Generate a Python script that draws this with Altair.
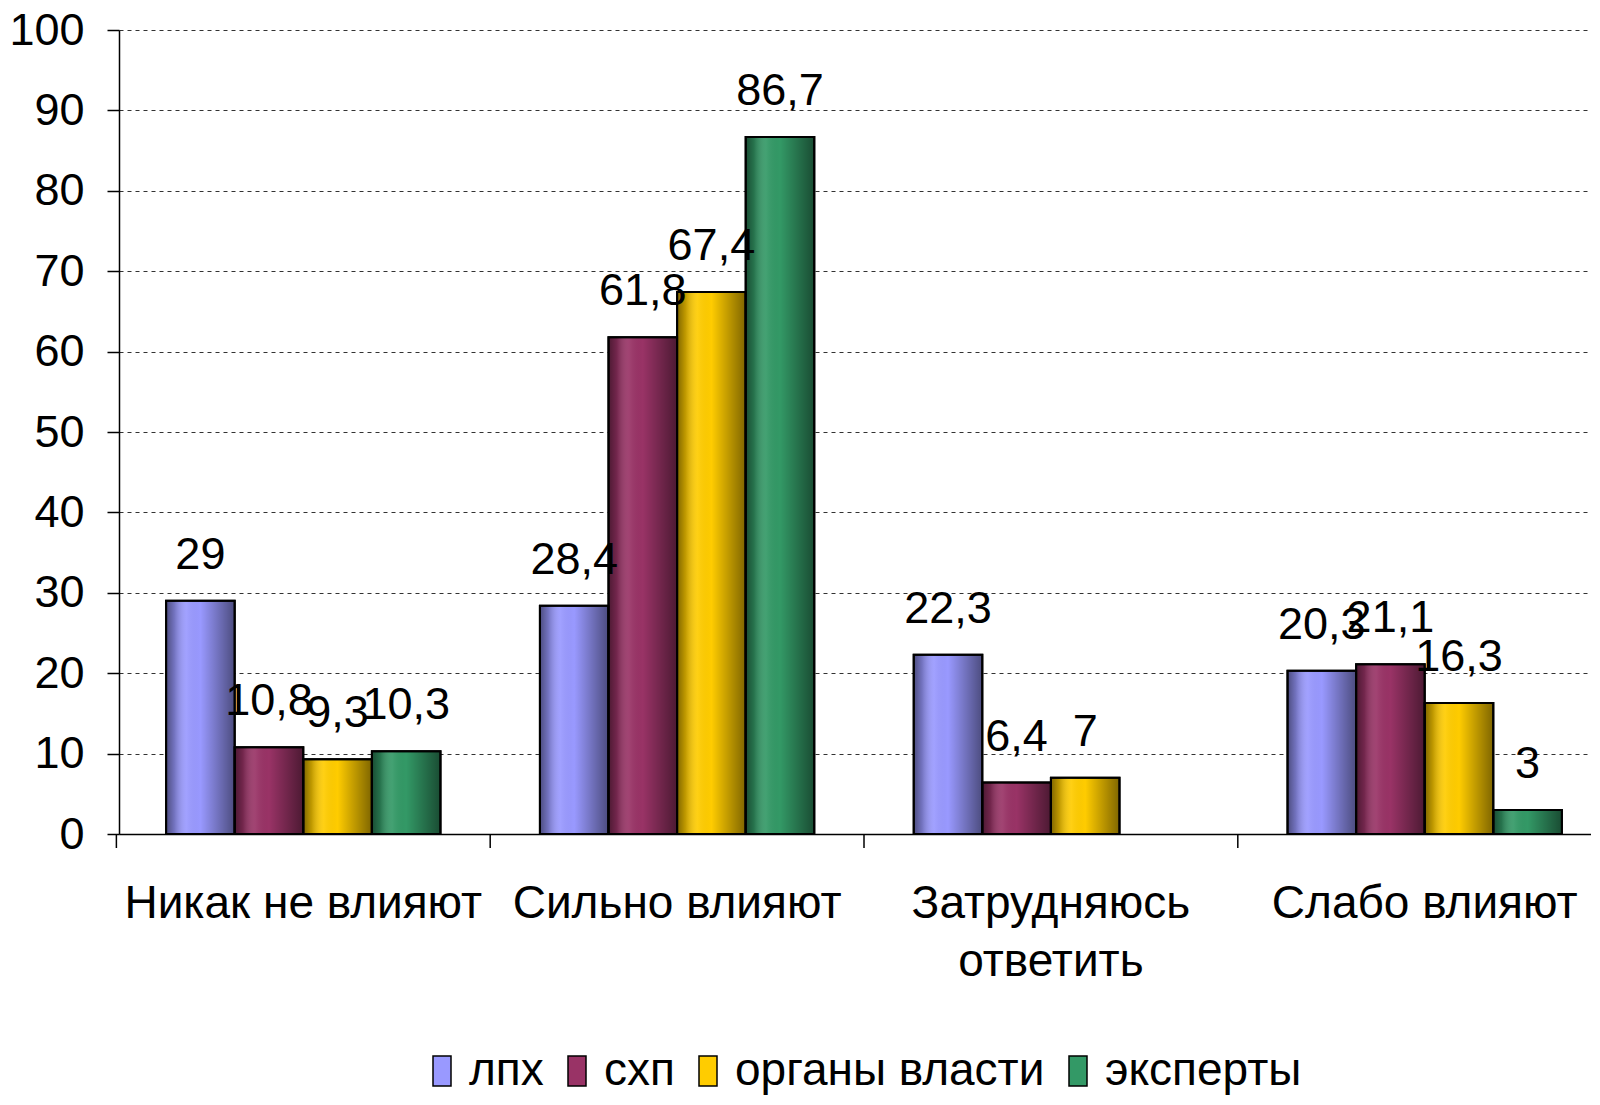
import altair as alt
import pandas as pd

categories = ["Никак не влияют", "Сильно влияют", "Затрудняюсь ответить", "Слабо влияют"]
series = ["лпх", "схп", "органы власти", "эксперты"]
colors = ["#9999FF", "#993366", "#FFCC00", "#339966"]

v_lph = [29, 28.4, 22.3, 20.3]
v_shp = [10.8, 61.8, 6.4, 21.1]
v_org = [9.3, 67.4, 7, 16.3]
v_exp = [10.3, 86.7, None, 3]

rows = []
for s, vals in zip(series, [v_lph, v_shp, v_org, v_exp]):
    for c, v in zip(categories, vals):
        if v is None:
            continue
        rows.append({"category": c, "series": s, "value": v,
                     "label": (("%g" % v).replace(".", ","))})
df = pd.DataFrame(rows)

FONT = "Liberation Sans"
FS = 45
W, H = 1472, 804
PI, PO = 0.266, 0.126
RANGE = 1490
STEP = RANGE / (4 - PI + 2 * PO)

x = alt.X("category:N", sort=categories, title=None,
          scale=alt.Scale(paddingInner=PI, paddingOuter=PO, range=[0, RANGE]),
          axis=alt.Axis(labelAngle=0, labelFontSize=46, labelFont=FONT, labelColor="black",
                        labelPadding=47, labelLineHeight=58, labelLimit=0,
                        labelExpr="datum.label == 'Затрудняюсь ответить' ? ['Затрудняюсь', 'ответить'] : datum.label",
                        domainColor="black", domainWidth=1.5, ticks=False))
xo = alt.XOffset("series:N", sort=series, scale=alt.Scale(domain=series))
y = alt.Y("value:Q", title=None,
          scale=alt.Scale(domain=[0, 100]),
          axis=alt.Axis(values=list(range(0, 101, 10)), labelFontSize=FS, labelFont=FONT,
                        labelColor="black", labelPadding=23, tickSize=12, tickColor="black",
                        tickWidth=1.5, domainColor="black", domainWidth=1.5,
                        grid=True, gridColor="#333333", gridDash=[4, 4], gridWidth=1))

base = alt.Chart(df).encode(x=x, xOffset=xo, y=y)

bars = base.mark_bar(stroke="black", strokeWidth=2).encode(
    color=alt.Color("series:N", sort=series,
                    scale=alt.Scale(domain=series, range=colors),
                    legend=alt.Legend(title=None, orient="none", direction="horizontal",
                                      legendX=300, legendY=1018,
                                      labelFontSize=46, labelFont=FONT, labelColor="black",
                                      labelLimit=0,
                                      symbolType="M-0.6,-1L0.6,-1L0.6,1L-0.6,1Z",
                                      symbolSize=900, symbolStrokeColor="black",
                                      symbolStrokeWidth=1.5, symbolOpacity=1,
                                      columnPadding=10, labelOffset=4))
)

shade = base.mark_bar(
    stroke="black", strokeWidth=2,
    fill=alt.Gradient(gradient="linear", x1=0, x2=1, y1=0, y2=0, stops=[
        alt.GradientStop(color="rgba(0,0,0,0.5)", offset=0),
        alt.GradientStop(color="rgba(0,0,0,0.25)", offset=0.12),
        alt.GradientStop(color="rgba(255,255,255,0.08)", offset=0.3),
        alt.GradientStop(color="rgba(0,0,0,0.0)", offset=0.5),
        alt.GradientStop(color="rgba(0,0,0,0.25)", offset=0.75),
        alt.GradientStop(color="rgba(0,0,0,0.5)", offset=1),
    ])
)

text = base.mark_text(baseline="bottom", dy=-23, fontSize=FS, font=FONT, color="black").encode(
    text="label:N")

# category boundary ticks below the x axis (half an inner gap before each group)
ticks = alt.Chart(pd.DataFrame({"category": categories})).mark_rule(
    color="black", strokeWidth=1.5, xOffset=-(PI / 2) * STEP
).encode(
    x=alt.X("category:N", sort=categories, bandPosition=0),
    y=alt.value(H), y2=alt.value(H + 14)
)

chart = alt.layer(bars, shade, text, ticks).properties(
    width=W, height=H,
    autosize=alt.AutoSizeParams(type="none"),
    padding={"left": 111, "top": 22, "right": 0, "bottom": 263}
).configure_view(stroke=None)

chart.save("out.html", embed_options={"renderer": "svg", "actions": False})
